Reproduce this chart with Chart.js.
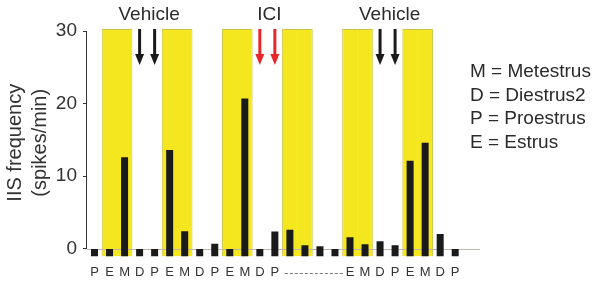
<!DOCTYPE html>
<html>
<head>
<meta charset="utf-8">
<script src="https://cdn.jsdelivr.net/npm/chart.js@4"></script>
<style>
  html, body { margin: 0; padding: 0; background: #fff; }
  #wrap { width: 602px; height: 286px; }
</style>
</head>
<body>
<div id="wrap"><canvas id="chart"></canvas></div>
<script>
// cycle stage of each recording day (blank = days under the dashed line)
const stageLabels = ['P','E','M','D','P','E','M','D','P','E','M','D','P','','','','','E','M','D','P','E','M','D','P'];
// IIS frequency, spikes/min
const iisRate = [0, 0, 12.6, 0, 0, 13.6, 2.4, 0, 0.65, 0, 20.7, 0, 2.35, 2.6, 0.45, 0.3, 0, 1.55, 0.6, 1.0, 0.45, 12.1, 14.6, 2.0, 0];
const barBase = -1.1;
// days shaded yellow (E and M)
const shadedDays = [1, 2, 5, 6, 9, 10, 13, 14, 17, 18, 21, 22];
const yTicks = [0, 10, 20, 30];
const treatments = ['Vehicle', 'ICI', 'Vehicle'];
const treatmentDays = [[3, 4], [11, 12], [19, 20]];
const treatmentColors = ['#1a1a1a', '#e5262b', '#1a1a1a'];
const stageKey = ['M = Metestrus', 'D = Diestrus2', 'P = Proestrus', 'E = Estrus'];

const fontFamily = "'Liberation Sans', Arial, sans-serif";
Chart.defaults.font.family = fontFamily;
Chart.defaults.color = '#333';

function drawArrow(ctx, px, top, tip) {
  ctx.lineWidth = 3;
  ctx.beginPath();
  ctx.moveTo(px, top);
  ctx.lineTo(px, tip - 8);
  ctx.stroke();
  ctx.beginPath();
  ctx.moveTo(px - 4.5, tip - 11);
  ctx.lineTo(px + 4.5, tip - 11);
  ctx.lineTo(px, tip);
  ctx.closePath();
  ctx.fill();
}

const extras = {
  id: 'extras',
  beforeDatasetDraw(chart, args) {
    if (args.index !== 0) return;
    const { ctx, chartArea, scales: { y } } = chart;
    const y0 = Math.round(y.getPixelForValue(0)) + 0.5;
    ctx.save();
    ctx.strokeStyle = '#bdb5ad';
    ctx.lineWidth = 1;
    ctx.beginPath();
    ctx.moveTo(chartArea.left, y0);
    ctx.lineTo(chartArea.right, y0);
    ctx.stroke();
    ctx.restore();
  },
  afterDraw(chart) {
    const { ctx, chartArea, scales: { x, y } } = chart;
    ctx.save();

    // y axis line, zero to top tick
    const ax = Math.round(chartArea.left) - 0.5;
    ctx.strokeStyle = '#333';
    ctx.lineWidth = 1;
    ctx.beginPath();
    ctx.moveTo(ax, y.getPixelForValue(yTicks[yTicks.length - 1]));
    ctx.lineTo(ax, y.getPixelForValue(0));
    ctx.stroke();

    // treatment labels + arrows
    ctx.font = '19px ' + fontFamily;
    ctx.textAlign = 'center';
    ctx.textBaseline = 'middle';
    treatments.forEach((name, t) => {
      const xs = treatmentDays[t].map(d => x.getPixelForValue(d));
      ctx.fillStyle = '#2b2b2b';
      ctx.fillText(name, (xs[0] + xs[1]) / 2 + 2, 15);
      ctx.fillStyle = treatmentColors[t];
      ctx.strokeStyle = treatmentColors[t];
      xs.forEach(px => drawArrow(ctx, px, chartArea.top, chartArea.top + 36));
    });

    // stage key on the right
    ctx.textAlign = 'left';
    ctx.fillStyle = '#2b2b2b';
    stageKey.forEach((txt, i) => ctx.fillText(txt, 470, 72 + i * 23.5));

    // dashed line under the unlabeled days
    const blank = stageLabels.map((s, i) => s === '' ? i : -1).filter(i => i >= 0);
    if (blank.length) {
      ctx.strokeStyle = '#777';
      ctx.lineWidth = 1;
      ctx.setLineDash([3, 2]);
      ctx.beginPath();
      ctx.moveTo(x.getPixelForValue(blank[0]) - 5, 273.5);
      ctx.lineTo(x.getPixelForValue(blank[blank.length - 1]) + 8, 273.5);
      ctx.stroke();
    }
    ctx.restore();
  }
};

new Chart(document.getElementById('chart'), {
  type: 'bar',
  data: {
    datasets: [{
      label: 'IIS frequency',
      data: iisRate.map((v, i) => ({ x: i, y: [barBase, v] })),
      backgroundColor: '#1a1a1a',
      grouped: false,
      maxBarThickness: 7,
      order: 1
    }, {
      label: 'E/M',
      data: shadedDays.map(d => ({ x: d, y: [barBase, 30.3] })),
      backgroundColor: '#f4e61f',
      borderColor: '#cdc446',
      borderWidth: (c) => {
        const d = c.raw && c.raw.x;
        return shadedDays.includes(d - 1)
          ? { top: 1, right: 1, left: 0, bottom: 0 }
          : { top: 1, left: 1, right: 0, bottom: 0 };
      },
      grouped: false,
      barPercentage: 1.04,
      categoryPercentage: 1,
      order: 2
    }]
  },
  options: {
    responsive: true,
    maintainAspectRatio: false,
    animation: false,
    layout: { padding: { left: 0, right: 122, top: 29, bottom: 0 } },
    plugins: { legend: { display: false }, tooltip: { enabled: false } },
    scales: {
      x: {
        type: 'linear',
        offset: false,
        min: -0.5,
        max: 25.65,
        grid: { display: false, drawTicks: false, offset: false },
        border: { display: false },
        afterBuildTicks: (s) => { s.ticks = stageLabels.map((_, i) => ({ value: i })); },
        afterFit: (s) => { s.height = 29.5; s.paddingLeft = 0; s.paddingRight = 0; },
        ticks: {
          autoSkip: false,
          maxRotation: 0,
          padding: 8,
          font: { size: 13 },
          color: '#333',
          callback: (v, i) => stageLabels[i]
        }
      },
      y: {
        min: barBase,
        max: 30.3,
        grid: { drawOnChartArea: false, drawTicks: true, tickLength: 4, color: '#333' },
        border: { display: false },
        afterBuildTicks: (s) => { s.ticks = yTicks.map(v => ({ value: v })); },
        afterFit: (s) => { s.width = 87; s.paddingTop = 0; s.paddingBottom = 0; },
        ticks: { padding: 6, font: { size: 19 }, color: '#333' },
        title: {
          display: true,
          text: ['IIS frequency', '(spikes/min)'],
          font: { size: 20, lineHeight: 1.25 },
          color: '#333',
          padding: { top: 2.5, bottom: 0 }
        }
      }
    }
  },
  plugins: [extras]
});
</script>
</body>
</html>
